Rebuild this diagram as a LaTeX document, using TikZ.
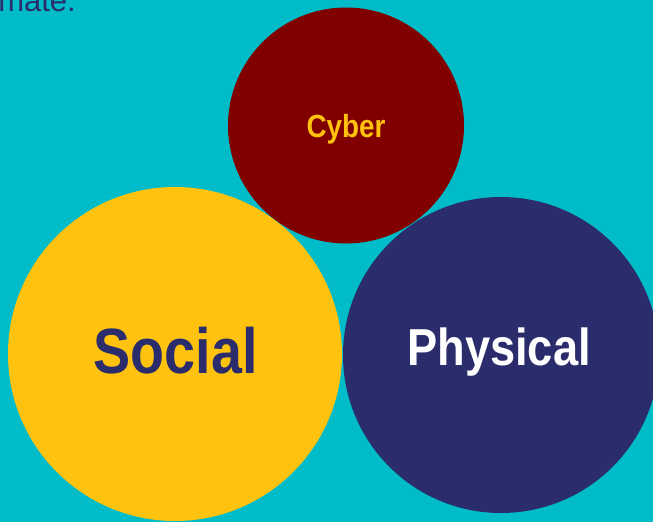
\documentclass[tikz,border=0pt]{standalone}
\usepackage{fontspec}
\setmainfont{Liberation Sans}[FakeStretch=0.87]
\newfontfamily\capfont{Liberation Sans}
\definecolor{bg}{HTML}{00BCC8}
\definecolor{cyberred}{HTML}{800000}
\definecolor{sunny}{HTML}{FFC20E}
\definecolor{navy}{HTML}{2A2C6B}
\begin{document}
\begin{tikzpicture}[x=1pt,y=-1pt,
  bubble/.style={circle, inner sep=0pt, draw=none},
  lbl/.style={anchor=base, inner sep=0pt}]
\useasboundingbox (0,0) rectangle (653,522);
\clip (0,0) rectangle (653,522);
\fill[bg] (0,0) rectangle (653,522);
\node[anchor=base east, inner sep=0pt, text=navy, font=\capfont\fontsize{31}{33}\selectfont] (caption) at (76,12) {climate.};
\node[bubble, fill=sunny, minimum size=334pt] (social) at (175,354) {};
\node[bubble, fill=navy, minimum size=316pt] (physical) at (501,355) {};
\node[bubble, fill=cyberred, minimum size=236pt] (cyber) at (346,125.5) {};
\node[lbl, text=sunny, font=\bfseries\fontsize{32}{34}\selectfont] (cyberlabel) at (346,137) {Cyber};
\node[lbl, text=navy, font=\bfseries\fontsize{64}{66}\selectfont] (sociallabel) at (175.5,373) {Social};
\node[lbl, text=white, font=\bfseries\fontsize{52}{54}\selectfont] (physicallabel) at (499,365) {Physical};
\end{tikzpicture}
\end{document}
